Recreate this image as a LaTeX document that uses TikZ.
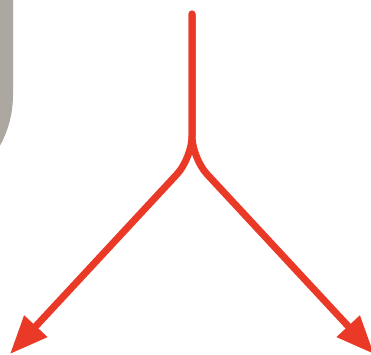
\documentclass[tikz,border=0pt]{standalone}
\usepackage{tikz}
\usetikzlibrary{arrows.meta}
\definecolor{forkRed}{RGB}{234, 57, 38}
\definecolor{panelGray}{RGB}{172, 167, 160}

\begin{document}
\begin{tikzpicture}[x=1pt, y=-1pt, >={Triangle[length=38pt, width=30pt]},
  branch/.style={forkRed, line width=7pt, line cap=round, rounded corners=22pt, ->}]
  \useasboundingbox (0,0) rectangle (371,354);
  \coordinate (top) at (192, 14);
  \coordinate (fork) at (192, 158);
  \coordinate (tipL) at (10, 354);
  \coordinate (tipR) at (374, 354);

  % Gray panel edge
  \begin{scope}
    \clip (0,0) rectangle (371,354);
    \fill[panelGray, rounded corners=105pt] (-300,-300) rectangle (13,200);
  \end{scope}

  % Stem, then the two branches
  \draw[branch] (top) -- (fork) -- (tipL);
  \draw[branch] (top) -- (fork) -- (tipR);
\end{tikzpicture}
\end{document}
